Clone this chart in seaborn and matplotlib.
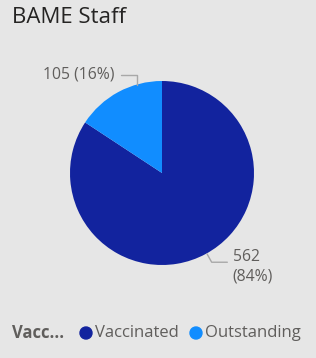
import matplotlib
matplotlib.use("Agg")
import matplotlib.pyplot as plt
import seaborn as sns
import numpy as np

categories = ["Vaccinated", "Outstanding"]
values = [562, 105]
colors = ["#12239E", "#118DFF"]
title = "BAME Staff"
legend_title = "Vacc..."

sns.set_theme(style="white")
plt.rcParams['font.family'] = ['Open Sans', 'DejaVu Sans']

W, H = 316, 358
BG = "#E6E6E6"
fig = plt.figure(figsize=(W / 100, H / 100), dpi=100, facecolor=BG)

cx, cy, r = 162, 173, 92
L = 1.6
side = 2 * L * r
ax = fig.add_axes([(cx - side / 2) / W, (H - cy - side / 2) / H, side / W, side / H])
ax.set_facecolor(BG)
wedges, _ = ax.pie(values, colors=colors, startangle=90, counterclock=False,
                   wedgeprops=dict(linewidth=0))
ax.set_xlim(-L, L)
ax.set_ylim(-L, L)
ax.set_aspect("equal")
ax.axis("off")

total = sum(values)
lab = [f"{v} ({v / total:.0%})" for v in values]
line_c = "#A8A8A8"
txt_c = "#605E5C"

# Outstanding label (upper left)
pts = np.array([(-0.27, 0.96), (-0.27, 1.065), (-0.45, 1.065)])
ax.plot(pts[:, 0], pts[:, 1], color=line_c, lw=1, clip_on=False)
ax.text(-0.52, 1.075, lab[1], ha="right", va="center", fontsize=11.3, color=txt_c)

# Vaccinated label (lower right)
pts = np.array([(0.49, -0.88), (0.54, -0.97), (0.71, -0.97)])
ax.plot(pts[:, 0], pts[:, 1], color=line_c, lw=1, clip_on=False)
ax.text(0.77, -1.02, f"{values[0]}\n({values[0] / total:.0%})", ha="left", va="center",
        fontsize=11.3, color=txt_c, linespacing=1.3)

fig.text(12 / W, 1 - 17.5 / H, title, ha="left", va="center", fontsize=16, color="#252423")

# Legend
ly = 1 - 333 / H
fig.text(12 / W, ly, legend_title, ha="left", va="center", fontsize=12,
         fontweight="bold", color=txt_c)
lx = [86, 196]
tx = [95, 205]
for i, c in enumerate(categories):
    fig.patches.append(matplotlib.patches.Ellipse((lx[i] / W, ly), 12 / W, 12 / H,
                                                  transform=fig.transFigure, color=colors[i]))
    fig.text(tx[i] / W, ly, c, ha="left", va="center", fontsize=12, color=txt_c)

fig.savefig("out.png", dpi=100, facecolor=BG)
